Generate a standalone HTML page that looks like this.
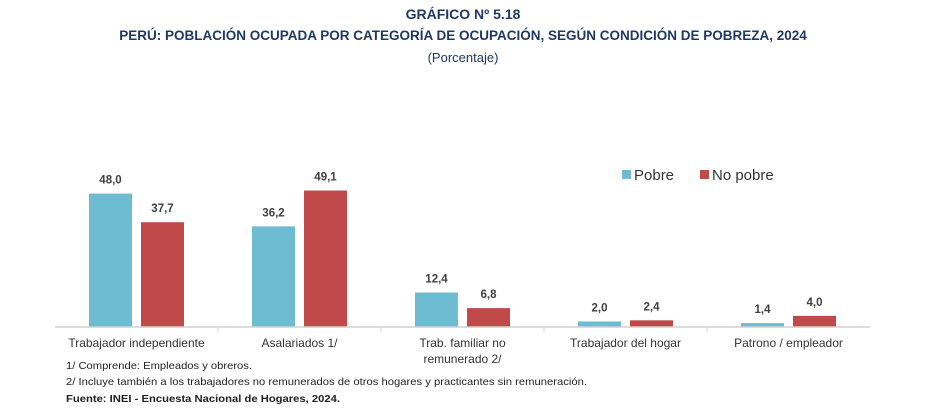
<!DOCTYPE html>
<html><head><meta charset="utf-8"><style>
body{margin:0;width:927px;height:411px;background:#fff;overflow:hidden;font-family:"Liberation Sans",sans-serif}
svg{display:block}
</style></head><body>
<svg id="c" width="927" height="411">
<text x="463" y="19" text-anchor="middle" font-size="14" font-weight="bold" fill="#1f3864">GRÁFICO Nº 5.18</text>
<text x="463" y="40" text-anchor="middle" font-size="13.5" font-weight="bold" fill="#1f3864">PERÚ: POBLACIÓN OCUPADA POR CATEGORÍA DE OCUPACIÓN, SEGÚN CONDICIÓN DE POBREZA, 2024</text>
<text x="463" y="62" text-anchor="middle" font-size="13" fill="#1f3864">(Porcentaje)</text>
<g id="bars"></g>
<line x1="55" y1="327" x2="870" y2="327" stroke="#d0d0d0" stroke-width="1.5"/>
<g>
<rect x="622" y="170" width="9" height="9" fill="#6dbcd1"/>
<text x="634" y="180" font-size="15" fill="#333">Pobre</text>
<rect x="700" y="170" width="9" height="9" fill="#c0494a"/>
<text x="712" y="180" font-size="15" fill="#333">No pobre</text>
</g>
<text x="66" y="369" font-size="10.5" fill="#222" textLength="186" lengthAdjust="spacingAndGlyphs">1/ Comprende: Empleados y obreros.</text>
<text x="66" y="385" font-size="10.5" fill="#222" textLength="521" lengthAdjust="spacingAndGlyphs">2/ Incluye también a los trabajadores no remunerados de otros hogares y practicantes sin remuneración.</text>
<text x="66" y="402" font-size="10.5" font-weight="bold" fill="#222" textLength="274" lengthAdjust="spacingAndGlyphs">Fuente: INEI - Encuesta Nacional de Hogares, 2024.</text>
</svg>
<script>
const categories=[["Trabajador independiente"],["Asalariados 1/"],["Trab. familiar no","remunerado 2/"],["Trabajador del hogar"],["Patrono / empleador"]];
const pobre=[48.0,36.2,12.4,2.0,1.4];
const noPobre=[37.7,49.1,6.8,2.4,4.0];
const NS="http://www.w3.org/2000/svg";
const g=document.getElementById('bars');
const x0=55,bandW=163,baseY=327,scale=2.78;
const xc=i=>x0+bandW*(i+0.5);
const yv=v=>baseY-v*scale;
function mk(t,a){const e=document.createElementNS(NS,t);for(const k in a)e.setAttribute(k,a[k]);g.appendChild(e);return e;}
categories.forEach((c,i)=>{
  const cx=xc(i);
  [[pobre[i],cx-47.5,'#6dbcd1','pobre'],[noPobre[i],cx+4.5,'#c0494a','no-pobre']].forEach(([v,x,col,nm])=>{
    const r=mk('rect',{x:x,y:yv(v),width:43,height:v*scale,fill:col});
    
    
    const t=mk('text',{x:x+21.5,y:yv(v)-10,'text-anchor':'middle','font-size':'11.5','font-weight':'bold',fill:'#404040'});
    t.textContent=v.toFixed(1).replace('.',',');
    
    
  });
  if(i>0){const tk=mk('line',{x1:x0+bandW*i,y1:baseY,x2:x0+bandW*i,y2:baseY+5,stroke:'#d0d0d0'});
    
    }
  c.forEach((ln,j)=>{
    const t=mk('text',{x:cx,y:347+j*16,'text-anchor':'middle','font-size':'12',fill:'#333'});
    t.textContent=ln;
    
    
  });
});
</script>
</body></html>
